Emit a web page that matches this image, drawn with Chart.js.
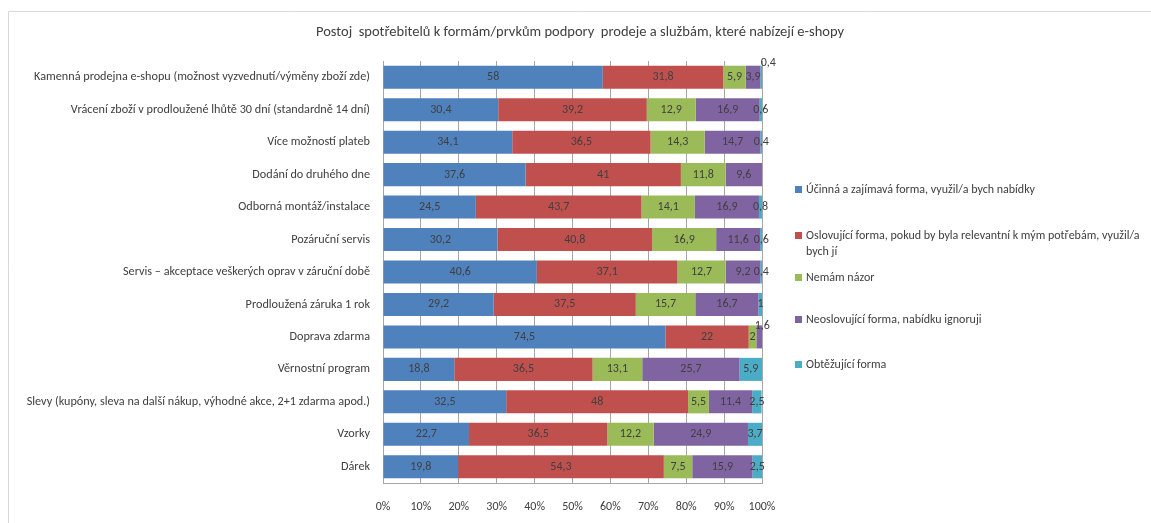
<!DOCTYPE html>
<html>
<head>
<meta charset="utf-8">
<script src="https://cdn.jsdelivr.net/npm/chart.js@4/dist/chart.umd.min.js"></script>
<style>
  html, body { margin: 0; padding: 0; background: #fff; }
  #wrap { width: 1151px; height: 523px; }
</style>
</head>
<body>
<div id="wrap"><canvas id="chart"></canvas></div>
<script>
// Categories (top to bottom)
const categories = [
  'Kamenná prodejna e-shopu (možnost vyzvednutí/výměny zboží zde)',
  'Vrácení zboží v prodloužené lhůtě 30 dní (standardně 14 dní)',
  'Více možností plateb',
  'Dodání do druhého dne',
  'Odborná montáž/instalace',
  'Pozáruční servis',
  'Servis – akceptace veškerých oprav v záruční době',
  'Prodloužená záruka 1 rok',
  'Doprava zdarma',
  'Věrnostní program',
  'Slevy (kupóny, sleva na další nákup, výhodné akce, 2+1 zdarma apod.)',
  'Vzorky',
  'Dárek'
];

// Series names
const seriesNames = [
  'Účinná a zajímavá forma, využil/a bych nabídky',
  'Oslovující forma, pokud by byla relevantní k mým potřebám, využil/a bych jí',
  'Nemám názor',
  'Neoslovující forma, nabídku ignoruji',
  'Obtěžující forma'
];

// Percentages per series
const ucinna      = [58, 30.4, 34.1, 37.6, 24.5, 30.2, 40.6, 29.2, 74.5, 18.8, 32.5, 22.7, 19.8];
const oslovujici  = [31.8, 39.2, 36.5, 41, 43.7, 40.8, 37.1, 37.5, 22, 36.5, 48, 36.5, 54.3];
const nemamNazor  = [5.9, 12.9, 14.3, 11.8, 14.1, 16.9, 12.7, 15.7, 2, 13.1, 5.5, 12.2, 7.5];
const neoslovujici = [3.9, 16.9, 14.7, 9.6, 16.9, 11.6, 9.2, 16.7, 1.6, 25.7, 11.4, 24.9, 15.9];
const obtezujici  = [0.4, 0.6, 0.4, 0, 0.8, 0.6, 0.4, 1, 0, 5.9, 2.5, 3.7, 2.5];

// X axis ticks
const xTicks = [0, 10, 20, 30, 40, 50, 60, 70, 80, 90, 100];

const colors = ['#4F81BD', '#C0504D', '#9BBB59', '#8064A2', '#4BACC6'];
const seriesValues = [ucinna, oslovujici, nemamNazor, neoslovujici, obtezujici];

const FONT = "Carlito, Lato, 'Liberation Sans', sans-serif";
const TEXT = '#404040';

const fmt = v => String(v).replace('.', ',');

// frame, title, value labels and legend
const decor = {
  id: 'decor',
  beforeDraw(chart) {
    const ctx = chart.ctx;
    ctx.save();
    ctx.strokeStyle = '#d9d9d9';
    ctx.lineWidth = 1;
    ctx.beginPath();
    ctx.moveTo(8.5, 523);
    ctx.lineTo(8.5, 11.5);
    ctx.lineTo(1151, 11.5);
    ctx.stroke();

    ctx.fillStyle = TEXT;
    ctx.font = '14.5px ' + FONT;
    ctx.textAlign = 'center';
    ctx.textBaseline = 'middle';
    ctx.fillText('Postoj  spotřebitelů k formám/prvkům podpory  prodeje a službám, které nabízejí e-shopy', 580, 32);
    ctx.restore();
  },
  afterDatasetsDraw(chart, args, opts) {
    const ctx = chart.ctx;
    ctx.save();
    ctx.font = '12px ' + FONT;
    ctx.fillStyle = TEXT;
    ctx.textAlign = 'center';
    ctx.textBaseline = 'middle';
    chart.data.datasets.forEach((ds, di) => {
      chart.getDatasetMeta(di).data.forEach((bar, i) => {
        const v = ds.data[i];
        if (!v) return;
        const shift = (opts.shifts[di + ':' + i]) || [0, 0];
        ctx.fillText(fmt(v), (bar.x + bar.base) / 2 + shift[0], bar.y + shift[1]);
      });
    });

    // legend
    chart.data.datasets.forEach((ds, di) => {
      const y = opts.legendY[di];
      ctx.fillStyle = ds.backgroundColor;
      ctx.fillRect(795, y - 4, 7, 7);
      ctx.fillStyle = TEXT;
      ctx.textAlign = 'left';
      const words = ds.label.split(' ');
      let line = '', ly = y;
      words.forEach(w => {
        const test = line ? line + ' ' + w : w;
        if (ctx.measureText(test).width > 340 && line) {
          ctx.fillText(line, 806, ly);
          line = w;
          ly += 16;
        } else {
          line = test;
        }
      });
      ctx.fillText(line, 806, ly);
    });
    ctx.restore();
  }
};

const data = {
  labels: categories,
  datasets: seriesNames.map((name, k) => ({
    label: name,
    data: seriesValues[k],
    backgroundColor: colors[k],
    borderWidth: 0,
    barPercentage: 0.71,
    categoryPercentage: 1
  }))
};

const options = {
  indexAxis: 'y',
  responsive: true,
  maintainAspectRatio: false,
  animation: false,
  layout: { padding: { left: 8, right: 389, top: 61, bottom: 0 } },
  scales: {
    x: {
      stacked: true,
      min: 0,
      max: 100,
      afterBuildTicks: scale => { scale.ticks = xTicks.map(v => ({ value: v })); },
      afterFit: scale => { scale.height = 40; },
      ticks: {
        callback: v => v + '%',
        color: TEXT,
        font: { family: FONT, size: 12 },
        padding: 17,
        maxRotation: 0
      },
      grid: { color: '#a6a6a6', drawTicks: false },
      border: { color: '#a6a6a6' }
    },
    y: {
      stacked: true,
      afterFit: scale => { scale.width = 375; },
      ticks: {
        color: TEXT,
        font: { family: FONT, size: 12.2 },
        padding: 13,
        autoSkip: false
      },
      grid: { display: false, drawTicks: false },
      border: { color: '#a6a6a6' }
    }
  },
  plugins: {
    legend: { display: false },
    tooltip: { enabled: false },
    decor: {
      legendY: [190, 236, 278, 320, 365],
      shifts: { '4:0': [7, -14], '3:8': [3, -11] }
    }
  }
};

new Chart(document.getElementById('chart'), {
  type: 'bar',
  data: data,
  options: options,
  plugins: [decor]
});
</script>
</body>
</html>
